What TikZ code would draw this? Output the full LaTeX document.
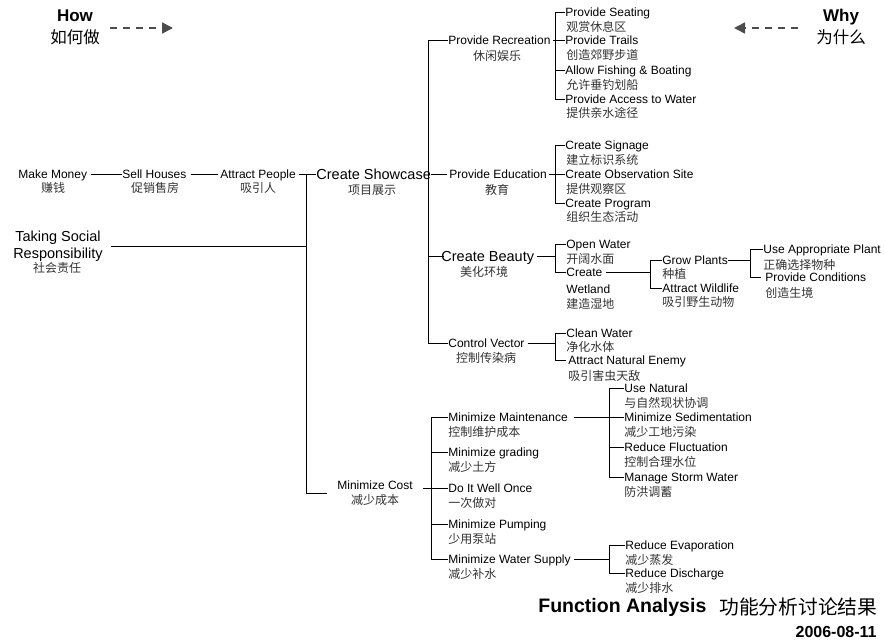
\documentclass[tikz,border=0pt]{standalone}
\usepackage{fontspec}
\setmainfont{Liberation Sans}
\newfontfamily\zhfont{Noto Sans CJK SC}
\usetikzlibrary{arrows.meta}

\newlength{\du}
\setlength{\du}{1pt}

\tikzset{
  en/.style={anchor=west,inner sep=0pt,text height=10.6pt,text depth=2pt,font=\fontsize{12}{14}\selectfont},
  zh/.style={anchor=west,inner sep=0pt,text height=10.5pt,text depth=1.5pt,text=black!80,font=\zhfont\fontsize{12}{14}\selectfont},
  zhc/.style={zh,anchor=center},
  big/.style={en,text height=12.4pt,text depth=2.4pt,font=\fontsize{14.5}{17}\selectfont},
  bigpair/.style={inner sep=0pt,align=center,font=\fontsize{14.5}{17}\selectfont},
  hw/.style={inner sep=0pt,text height=14.2pt,text depth=2pt,font=\bfseries\fontsize{17}{20}\selectfont},
  hwzh/.style={inner sep=0pt,text height=14.3pt,text depth=2pt,font=\zhfont\fontsize{16.5}{19}\selectfont},
  hwarrow/.style={draw=black!70,line width=1.6pt,dash pattern=on 7pt off 6pt,-{Triangle[length=11pt,width=11pt]}},
  ttl/.style={anchor=west,inner sep=0pt,text height=16pt,text depth=2pt,font=\bfseries\fontsize{19.5}{22}\selectfont},
  ttlzh/.style={anchor=west,inner sep=0pt,text height=17.4pt,text depth=2.4pt,font=\zhfont\fontsize{19.75}{22}\selectfont},
  datum/.style={anchor=east,inner sep=0pt,text height=13.4pt,text depth=2pt,font=\bfseries\fontsize{16}{19}\selectfont},
}

\begin{document}
\begin{tikzpicture}[line width=0.8pt]
\pgftransformyscale{-1.000000}
\useasboundingbox (0\du,0\du) rectangle (885\du,643\du);

% how / why
\node[hw] (how) at (75\du,15\du) {How};
\node[hwzh] (howzh) at (75\du,37\du) {如何做};
\coordinate (howa) at (110\du,28\du);
\coordinate (howb) at (173\du,28\du);
\draw[hwarrow] (howa) -- (howb);
\node[hw] (why) at (841\du,15\du) {Why};
\node[hwzh] (whyzh) at (841\du,37\du) {为什么};
\coordinate (whya) at (798\du,28\du);
\coordinate (whyb) at (734\du,28\du);
\draw[hwarrow] (whya) -- (whyb);

% left column
\node[en] (mm) at (18\du,174\du) {Make Money};
\node[zhc] (mmzh) at (53\du,188\du) {赚钱};
\node[en] (sh) at (122\du,174\du) {Sell Houses};
\node[zhc] (shzh) at (155\du,188\du) {促销售房};
\node[en] (ap) at (220\du,174\du) {Attract People};
\node[zhc] (apzh) at (258\du,188\du) {吸引人};
\node[big] (cs) at (316\du,174\du) {Create Showcase};
\node[zhc] (cszh) at (372\du,190\du) {项目展示};
\node[bigpair] (tsr) at (58\du,246\du) {Taking Social\\Responsibility};
\node[zhc] (tsrzh) at (57\du,268\du) {社会责任};
\node[en] (mc) at (337\du,485\du) {Minimize Cost};
\node[zhc] (mczh) at (375\du,500\du) {减少成本};

\coordinate (s1) at (306\du,0\du);
\coordinate (mcin) at (327\du,493\du);
\draw[shorten <=4\du] (mm.east) -- (sh.west);
\draw[shorten <=4\du,shorten >=2\du] (sh.east) -- (ap.west);
\draw[shorten <=3\du] (ap.east) -- (cs.west);
\draw (ap.east -| s1) -- (mcin -| s1) -- (mcin);
\draw[shorten <=8\du] (tsr.east) -- (tsr.east -| s1);

% second column
\coordinate (s2) at (428\du,0\du);
\node[en] (pr) at (448\du,40\du) {Provide Recreation};
\node[zhc] (przh) at (497\du,56\du) {休闲娱乐};
\node[en] (pe) at (449\du,174\du) {Provide Education};
\node[zhc] (pezh) at (497\du,190\du) {教育};
\node[big] (cb) at (441\du,256\du) {Create Beauty};
\node[zhc] (cbzh) at (484\du,272\du) {美化环境};
\node[en] (cv) at (448\du,343\du) {Control Vector};
\node[zhc] (cvzh) at (486\du,358\du) {控制传染病};
\draw (pr.west) -- (pr.west -| s2) -- (cv.west -| s2) -- (cv.west);
\draw[shorten >=2\du] (cs.east) -- (pe.west);
\draw (cb.west -| s2) -- ([xshift=3\du]cb.west);

% recreation
\coordinate (s3) at (555\du,0\du);
\node[en] (ps) at (565\du,12\du) {Provide Seating};
\node[zh] (pszh) at (566\du,27\du) {观赏休息区};
\node[en] (pt) at (565\du,40\du) {Provide Trails};
\node[zh] (ptzh) at (566\du,55\du) {创造郊野步道};
\node[en] (af) at (565\du,70\du) {Allow Fishing \& Boating};
\node[zh] (afzh) at (566\du,85\du) {允许垂钓划船};
\node[en] (pa) at (565\du,99\du) {Provide Access to Water};
\node[zh] (pazh) at (566\du,113\du) {提供亲水途径};
\draw (ps.west) -- (ps.west -| s3) -- (pa.west -| s3) -- (pa.west);
\draw[shorten <=2\du] (pr.east) -- (pt.west);
\draw (af.west -| s3) -- (af.west);

% education
\node[en] (sg) at (565\du,145\du) {Create Signage};
\node[zh] (sgzh) at (566\du,160\du) {建立标识系统};
\node[en] (os) at (565\du,174\du) {Create Observation Site};
\node[zh] (oszh) at (566\du,189\du) {提供观察区};
\node[en] (cp) at (565\du,203\du) {Create Program};
\node[zh] (cpzh) at (566\du,217\du) {组织生态活动};
\draw (sg.west) -- (sg.west -| s3) -- (cp.west -| s3) -- (cp.west);
\draw[shorten <=2\du] (pe.east) -- (os.west);

% beauty
\node[en] (ow) at (566\du,244\du) {Open Water};
\node[zh] (owzh) at (566\du,259\du) {开阔水面};
\node[en] (cwa) at (566\du,272\du) {Create};
\node[en] (cwb) at (566\du,289\du) {Wetland};
\node[zh] (cwzh) at (566\du,304\du) {建造湿地};
\draw (ow.west) -- (ow.west -| s3) -- (cwa.west -| s3) -- (cwa.west);
\draw[shorten <=2\du] (cb.east) -- (cb.east -| s3);

\coordinate (s4) at (650\du,0\du);
\node[en] (gp) at (662\du,260\du) {Grow Plants};
\node[zh] (gpzh) at (662\du,274\du) {种植};
\node[en] (aw) at (662\du,288\du) {Attract Wildlife};
\node[zh] (awzh) at (662\du,302\du) {吸引野生动物};
\draw[shorten <=3\du] (cwa.east) -- (cwa.east -| s4);
\draw (gp.west) -- (gp.west -| s4) -- (aw.west -| s4) -- (aw.west);

\coordinate (s5) at (750\du,0\du);
\node[en] (ua) at (763\du,249\du) {Use Appropriate Plant};
\node[zh] (uazh) at (763\du,265\du) {正确选择物种};
\node[en] (pc) at (765\du,277\du) {Provide Conditions};
\node[zh] (pczh) at (765\du,293\du) {创造生境};
\draw (gp.east) -- (gp.east -| s5);
\draw[shorten >=4\du] (ua.west) -- (ua.west -| s5) -- (pc.west -| s5) -- (pc.west);

% vector
\node[en] (clw) at (566\du,333\du) {Clean Water};
\node[zh] (clwzh) at (566\du,347\du) {净化水体};
\node[en] (ane) at (568\du,360\du) {Attract Natural Enemy};
\node[zh] (anezh) at (568\du,376\du) {吸引害虫天敌};
\draw[shorten <=3\du] (cv.east) -- (cv.east -| s3);
\draw[shorten >=2\du] (clw.west) -- (clw.west -| s3) -- (ane.west -| s3) -- (ane.west);

% cost
\coordinate (s2b) at (431\du,0\du);
\node[en] (mmn) at (448\du,417\du) {Minimize Maintenance};
\node[zh] (mmnzh) at (448\du,432\du) {控制维护成本};
\node[en] (mg) at (448\du,452\du) {Minimize grading};
\node[zh] (mgzh) at (448\du,467\du) {减少土方};
\node[en] (dw) at (448\du,488\du) {Do It Well Once};
\node[zh] (dwzh) at (448\du,503\du) {一次做对};
\node[en] (mp) at (448\du,524\du) {Minimize Pumping};
\node[zh] (mpzh) at (448\du,539\du) {少用泵站};
\node[en] (mws) at (448\du,559\du) {Minimize Water Supply};
\node[zh] (mwszh) at (448\du,574\du) {减少补水};
\draw (mmn.west) -- (mmn.west -| s2b) -- (mws.west -| s2b) -- (mws.west);
\draw (mg.west -| s2b) -- (mg.west);
\draw[shorten <=10\du] (mc.east |- dw.west) -- (dw.west);
\draw (mp.west -| s2b) -- (mp.west);

\coordinate (s4b) at (609\du,0\du);
\node[en] (un) at (624\du,388\du) {Use Natural};
\node[zh] (unzh) at (624\du,403\du) {与自然现状协调};
\node[en] (ms) at (624\du,417\du) {Minimize Sedimentation};
\node[zh] (mszh) at (624\du,432\du) {减少工地污染};
\node[en] (rf) at (624\du,447\du) {Reduce Fluctuation};
\node[zh] (rfzh) at (624\du,462\du) {控制合理水位};
\node[en] (msw) at (624\du,477\du) {Manage Storm Water};
\node[zh] (mswzh) at (624\du,492\du) {防洪调蓄};
\draw (un.west) -- (un.west -| s4b) -- (msw.west -| s4b) -- (msw.west);
\draw[shorten <=6\du] (mmn.east) -- (ms.west);
\draw (rf.west -| s4b) -- (rf.west);

\node[en] (re) at (625\du,545\du) {Reduce Evaporation};
\node[zh] (rezh) at (625\du,560\du) {减少蒸发};
\node[en] (rd) at (625\du,573\du) {Reduce Discharge};
\node[zh] (rdzh) at (625\du,588\du) {减少排水};
\draw (re.west) -- (re.west -| s4b) -- (rd.west -| s4b) -- (rd.west);
\draw[shorten <=3\du] (mws.east) -- (mws.east -| s4b);

% title
\node[ttl] (fa) at (538\du,605\du) {Function Analysis};
\node[ttlzh] (fazh) at (719\du,607\du) {功能分析讨论结果};
\node[datum] (dt) at (877\du,632\du) {2006-08-11};
\end{tikzpicture}
\end{document}
